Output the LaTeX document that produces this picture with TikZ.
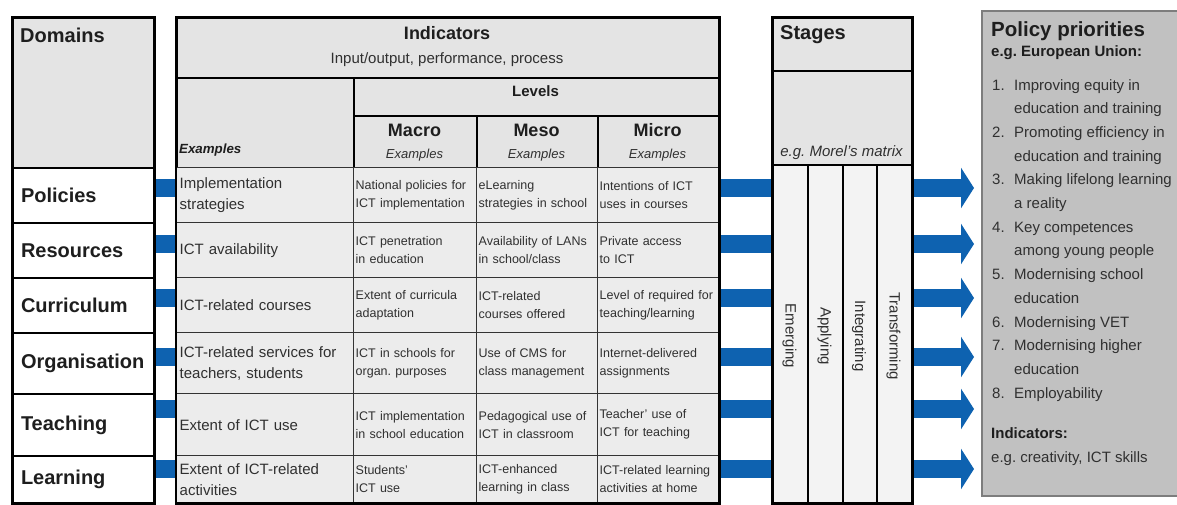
\documentclass[tikz,border=0pt]{standalone}
\usepackage{fontspec}
\setmainfont{Liberation Sans}
\usetikzlibrary{arrows.meta,backgrounds}

\definecolor{ictblue}{RGB}{14,98,176}
\definecolor{headgray}{RGB}{228,228,228}
\definecolor{rowgray}{RGB}{236,236,236}
\definecolor{stagegray}{RGB}{243,243,243}
\definecolor{priogray}{RGB}{193,193,193}
\definecolor{priodraw}{RGB}{125,125,125}
\definecolor{txtgray}{RGB}{48,48,48}
\definecolor{headblack}{RGB}{30,30,30}

\newcommand{\fsz}[2]{\fontsize{#1}{#2}\selectfont}

\tikzset{
  cell/.style={draw=black, line width=2pt, fill=headgray, inner sep=0pt, anchor=north west},
  rowcell/.style={cell, draw=black!80, line width=1.4pt, fill=rowgray, align=left, inner xsep=3pt, text=txtgray},
  lbl/.style={inner sep=0pt, text=headblack},
  frame/.style={draw=black, line width=2.8pt},
  bar/.style={draw=ictblue, line width=18pt},
  flow/.style={bar, -{Triangle[width=40pt, length=13pt]}, shorten >=7pt}
}

\begin{document}
\frenchspacing
\begin{tikzpicture}[x=1pt, y=-1pt]
    \useasboundingbox (0,0) rectangle (1177,504);

    % Домены
    \node[cell, minimum width=141pt, minimum height=150pt] (domhead) at (12,17) {};
    \node[lbl, anchor=west, font=\bfseries\fsz{20}{24}] (domlbl) at (20,35) {Domains};

    % Индикаторы
    \node[cell, minimum width=542pt, minimum height=60pt] (ind) at (176,17) {};
    \node[lbl, font=\bfseries\fsz{18}{22}] (indlbl) at (447,33) {Indicators};
    \node[lbl, font=\fsz{15}{18}, text=txtgray] (indsub) at (447,60) {Input/output, performance, process};
    \node[cell, minimum width=177pt, minimum height=90pt] (exhead) at (176,77) {};
    \node[lbl, anchor=west, font=\bfseries\itshape\fsz{13.3}{16}] (exlbl) at (179,150) {Examples};
    \node[cell, minimum width=365pt, minimum height=38pt] (lev) at (353,77) {};
    \node[lbl, font=\bfseries\fsz{15}{18}] (levlbl) at (535.5,91) {Levels};

    % Макро / мезо / микро
    \foreach \lv/\x/\w in {Macro/353/123, Meso/476/121, Micro/597/121} {
        \node[cell, minimum width=\w pt, minimum height=52pt] (\lv head) at (\x,115) {};
        \node[lbl, font=\bfseries\fsz{18}{22}] (\lv lbl) at ({\x+\w/2},130) {\lv};
        \node[lbl, font=\itshape\fsz{13}{16}, text=txtgray] (\lv ex) at ({\x+\w/2},155) {Examples};
    }

    % Строки таблицы
    \foreach \i/\rtop/\rh/\bary/\dname/\exa/\mac/\mes/\mic in {
        1/167/55/188/Policies/{Implementation\\strategies}/{National policies for\\ICT implementation}/{eLearning\\strategies in school}/{Intentions of ICT\\uses in courses},
        2/222/55/244/Resources/{ICT availability}/{ICT penetration\\in education}/{Availability of LANs\\in school/class}/{Private access\\to ICT},
        3/277/55/298/Curriculum/{ICT-related courses}/{Extent of curricula\\adaptation}/{ICT-related\\courses offered}/{Level of required for\\teaching/learning},
        4/332/61/357/Organisation/{ICT-related services for\\teachers, students}/{ICT in schools for\\organ. purposes}/{Use of CMS for\\class management}/{Internet-delivered\\assignments},
        5/393/62/409/Teaching/{Extent of ICT use}/{ICT implementation\\in school education}/{Pedagogical use of\\ICT in classroom}/{Teacher' use of\\ICT for teaching},
        6/455/47/469/Learning/{Extent of ICT-related\\activities}/{Students'\\ICT use}/{ICT-enhanced\\learning in class}/{ICT-related learning\\activities at home}} {
        \node[cell, fill=white, minimum width=141pt, minimum height=\rh pt, text width=125pt, inner xsep=8pt, align=left, font=\bfseries\fsz{20}{24}, text=headblack] (dom\i) at (12,\rtop) {\dname};
        \node[rowcell, minimum height=\rh pt, text width=171pt, font=\fsz{15}{21}] (ex\i) at (176,\rtop) {\exa};
        \node[rowcell, minimum height=\rh pt, text width=119pt, inner xsep=2pt, font=\fsz{12.5}{18}] (ma\i) at (353,\rtop) {\mac};
        \node[rowcell, minimum height=\rh pt, text width=117pt, inner xsep=2pt, font=\fsz{12.5}{18}] (me\i) at (476,\rtop) {\mes};
        \node[rowcell, minimum height=\rh pt, text width=117pt, inner xsep=2pt, font=\fsz{12.5}{18}] (mi\i) at (597,\rtop) {\mic};
        \coordinate (y\i) at (0,\bary);
    }

    % Стадии
    \node[cell, minimum width=139pt, minimum height=53pt] (sthead) at (772,17) {};
    \node[lbl, anchor=west, font=\bfseries\fsz{20}{24}] (stlbl) at (780,35) {Stages};
    \node[cell, minimum width=139pt, minimum height=94pt] (morel) at (772,70) {};
    \node[lbl, font=\itshape\fsz{15}{18}, text=txtgray] (morlbl) at (841.5,153) {e.g. Morel's matrix};
    \foreach \j/\x/\w/\st in {1/772/35/Emerging, 2/807/35/Applying, 3/842/34/Integrating, 4/876/35/Transforming} {
        \node[cell, fill=stagegray, minimum width=\w pt, minimum height=338pt] (stg\j) at (\x,164) {};
        \node[lbl, rotate=-90, font=\fsz{15}{18}, text=txtgray] (stl\j) at ({\x+\w/2},336) {\st};
    }

    % Приоритеты
    \node[cell, draw=priodraw, fill=priogray, line width=1.5pt, minimum width=205pt, minimum height=485pt] (prio) at (981,10) {};
    \node[lbl, anchor=west, font=\bfseries\fsz{20.5}{24}] (priolbl) at (991,31) {Policy priorities};
    \node[lbl, anchor=west, font=\bfseries\fsz{15}{18}] (eulbl) at (991,53) {e.g. European Union:};
    \foreach \t [count=\k from 0] in {Improving equity in, education and training, Promoting efficiency in, education and training,
        Making lifelong learning, a reality, Key competences, among young people, Modernising school, education,
        Modernising VET, Modernising higher, education, Employability} {
        \node[lbl, anchor=base west, font=\fsz{15}{18}, text=txtgray] (pt\k) at (1014,{90+23.7*\k}) {\t};
    }
    \foreach \n/\k in {1/0, 2/2, 3/4, 4/6, 5/8, 6/10, 7/11, 8/13} {
        \node[lbl, anchor=base west, font=\fsz{15}{18}, text=txtgray] (pn\n) at (992,{90+23.7*\k}) {\n.};
    }
    \node[lbl, anchor=west, font=\bfseries\fsz{15}{18}] (pilbl) at (991,433) {Indicators:};
    \node[lbl, anchor=west, font=\fsz{15}{18}, text=txtgray] (pisub) at (991,459) {e.g. creativity, ICT skills};

    % Рамки
    \draw[frame] (domhead.north west) rectangle (dom6.south east);
    \draw[frame] (ind.north west) rectangle (mi6.south east);
    \draw[frame] (sthead.north west) rectangle (stg4.south east);

    % Стрелки
    \begin{scope}[on background layer]
        \foreach \i in {1,...,6} {
            \draw[bar] (dom\i.east |- y\i) -- (ex\i.west |- y\i);
            \draw[bar] (mi\i.east |- y\i) -- (stg1.west |- y\i);
            \draw[flow] (stg4.east |- y\i) -- (prio.west |- y\i);
        }
    \end{scope}
\end{tikzpicture}
\end{document}
